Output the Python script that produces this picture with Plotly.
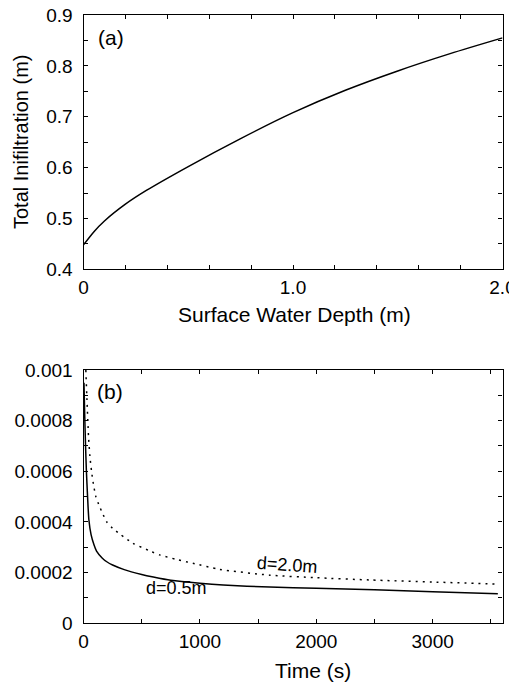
import plotly.graph_objects as go

# ---- Panel (a): total infiltration vs surface water depth ----
depth_m = [0, 0.05, 0.1, 0.2, 0.3, 0.5, 0.75, 1.0, 1.25, 1.5, 1.75, 2.0]
total_infiltration_m = [0.448, 0.474, 0.495, 0.528, 0.555, 0.602, 0.657, 0.708, 0.752, 0.790, 0.824, 0.855]

# ---- Panel (b): infiltration rate vs time ----
time_d05 = [4, 10, 17, 25, 35, 46, 65, 90, 112, 160, 200, 250, 350, 500, 600, 750,
            1000, 1200, 1600, 2000, 2500, 3000, 3560]
rate_d05 = [0.00095, 0.00083, 0.00071, 0.00060, 0.00050, 0.00041, 0.00035, 0.00031,
            0.000285, 0.000258, 0.000243, 0.000230, 0.000212, 0.000193, 0.000183, 0.000170,
            0.000158, 0.000151, 0.000143, 0.000138, 0.000132, 0.000125, 0.000117]

time_d20 = [20, 30, 43, 55, 69, 85, 106, 130, 163, 200, 250, 320, 421, 578, 654, 800,
            940, 1169, 1600, 2000, 2461, 3000, 3556]
rate_d20 = [0.00100, 0.00088, 0.00074, 0.00066, 0.00060, 0.00055, 0.00050, 0.00047,
            0.000435, 0.00040, 0.000375, 0.00035, 0.000317, 0.000284, 0.00027, 0.000252,
            0.000237, 0.000213, 0.000190, 0.000180, 0.000171, 0.000163, 0.000155]

# ---- Tick definitions ----
xa_tickvals = [0, 0.2, 0.4, 0.6, 0.8, 1.0, 1.2, 1.4, 1.6, 1.8, 2.0]
xa_ticktext = ["0", "", "", "", "", "1.0", "", "", "", "", "2.0"]
ya_tickvals = [0.4, 0.45, 0.5, 0.55, 0.6, 0.65, 0.7, 0.75, 0.8, 0.85, 0.9]
ya_ticktext = ["0.4", "", "0.5", "", "0.6", "", "0.7", "", "0.8", "", "0.9"]
xb_tickvals = [0, 500, 1000, 1500, 2000, 2500, 3000, 3500]
xb_ticktext = ["0", "", "1000", "", "2000", "", "3000", ""]
yb_tickvals = [0, 0.0001, 0.0002, 0.0003, 0.0004, 0.0005, 0.0006, 0.0007, 0.0008, 0.0009, 0.001]
yb_ticktext = ["0", "", "0.0002", "", "0.0004", "", "0.0006", "", "0.0008", "", "0.001"]

# page has an 8px body margin: figure occupies window pixels 8..517 / 8..685
OFF = 8
W, H = 517 - OFF, 685 - OFF
FONT = "Liberation Sans, Arial, sans-serif"
FS = 19
FT = 21


def px_x(p):
    return (p - OFF) / W


def px_y(p):
    return (H - (p - OFF)) / H


fig = go.Figure()
fig.add_trace(go.Scatter(x=depth_m, y=total_infiltration_m, mode="lines",
                         line=dict(color="black", width=1.5, shape="spline", smoothing=0.8),
                         xaxis="x", yaxis="y", showlegend=False))
fig.add_trace(go.Scatter(x=time_d05, y=rate_d05, mode="lines",
                         line=dict(color="black", width=1.5, shape="spline", smoothing=0.6),
                         xaxis="x2", yaxis="y2", showlegend=False))
fig.add_trace(go.Scatter(x=time_d20, y=rate_d20, mode="lines",
                         line=dict(color="black", width=1.5, dash="2px,5px", shape="spline", smoothing=0.6),
                         xaxis="x2", yaxis="y2", showlegend=False))

axis_common = dict(showgrid=False, zeroline=False, showline=True, linecolor="black", linewidth=1.2,
                   mirror="ticks", ticks="inside", ticklen=4, tickwidth=1, tickcolor="black",
                   tickfont=dict(family=FONT, size=FS, color="black"), automargin=False,
                   ticklabeloverflow="allow")

xdom = [px_x(83.5), px_x(502.5)]
fig.update_layout(
    width=W, height=H,
    margin=dict(l=0, r=0, t=0, b=0),
    paper_bgcolor="white", plot_bgcolor="white",
    font=dict(family=FONT, size=FS, color="black"),
    xaxis=dict(domain=xdom, range=[0, 2.0], tickmode="array", tickvals=xa_tickvals,
               ticktext=xa_ticktext, anchor="y", ticklabelstandoff=1, **axis_common),
    yaxis=dict(domain=[px_y(269.3), px_y(15)], range=[0.4, 0.9], tickmode="array",
               tickvals=ya_tickvals, ticktext=ya_ticktext, anchor="x", ticklabelstandoff=6,
               **axis_common),
    xaxis2=dict(domain=xdom, range=[0, 3600], tickmode="array", tickvals=xb_tickvals,
                ticktext=xb_ticktext, anchor="y2", ticklabelstandoff=1, **axis_common),
    yaxis2=dict(domain=[px_y(623.3), px_y(370)], range=[0, 0.001], tickmode="array",
                tickvals=yb_tickvals, ticktext=yb_ticktext, anchor="x2", ticklabelstandoff=6,
                **axis_common),
)

ann = [
    dict(text="Surface Water Depth (m)", x=px_x(294), y=px_y(314), xref="paper", yref="paper",
         showarrow=False, xanchor="center", yanchor="middle", font=dict(size=FT)),
    dict(text="Total Inifiltration (m)", x=px_x(21), y=px_y(142), xref="paper", yref="paper",
         showarrow=False, xanchor="center", yanchor="middle", textangle=-90, font=dict(size=20)),
    dict(text="Time (s)", x=px_x(313), y=px_y(670), xref="paper", yref="paper",
         showarrow=False, xanchor="center", yanchor="middle", font=dict(size=FT)),
    dict(text="(a)", x=0.13, y=0.856, xref="x", yref="y", showarrow=False,
         xanchor="center", yanchor="middle", font=dict(size=FT)),
    dict(text="(b)", x=228, y=0.000917, xref="x2", yref="y2", showarrow=False,
         xanchor="center", yanchor="middle", font=dict(size=FT)),
    dict(text="d=0.5m", x=803, y=0.000138, xref="x2", yref="y2", showarrow=False,
         xanchor="center", yanchor="middle", font=dict(size=18)),
    dict(text="d=2.0m", x=1753, y=0.000232, xref="x2", yref="y2", showarrow=False,
         xanchor="center", yanchor="middle", textangle=4, font=dict(size=18)),
]
fig.update_layout(annotations=ann)

fig.write_html("out.html")
